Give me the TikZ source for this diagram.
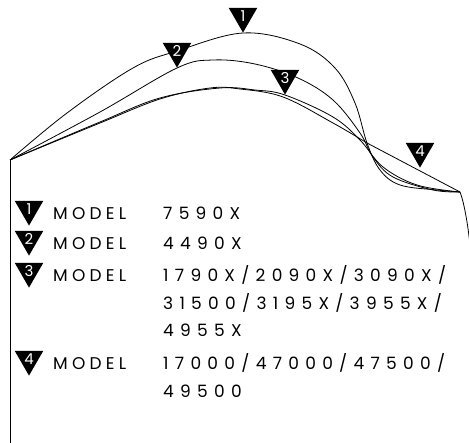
\documentclass[tikz,border=0pt]{standalone}
\usepackage{fontspec}
\newfontfamily\modelfont[LetterSpace=25]{Poppins}
\newfontfamily\numfont[LetterSpace=37]{Poppins}
\newfontfamily\markfont{Poppins}
\usetikzlibrary{shapes.geometric}

\begin{document}
\begin{tikzpicture}[x=1pt,y=-1pt,
    curve/.style={line width=0.8pt},
    tri/.style={regular polygon, regular polygon sides=3, shape border rotate=180,
      fill=black, text=white, inner sep=0pt, minimum size=33pt,
      font=\markfont\fontsize{15}{15}\selectfont},
    legendtext/.style={anchor=base west, inner sep=0pt, align=left,
      font=\modelfont\fontsize{17}{27.5}\selectfont},
    numtext/.style={legendtext, font=\numfont\fontsize{17}{27.5}\selectfont}]
    \useasboundingbox (0,0) rectangle (469,443);

    \coordinate (S) at (10,160);
    \coordinate (E) at (460,192);
    \coordinate (B) at (10,443);
    \coordinate (R) at (470,245);

    % frame lines
    \draw[curve] (S) -- (B);
    \draw[curve] (E) .. controls (464,202) and (468,225) .. (R);

    % curves
    \draw[curve] plot[smooth, tension=0.6] coordinates {(S) (67,113) (133,68) (177,51) (243,33) (300,44) (335,68) (355,103) (367,143) (380,170) (400,185) (437,190) (E)};
    \draw[curve] plot[smooth, tension=0.6] coordinates {(S) (100,112) (177,68) (213,60) (255,64) (298,78) (333,100) (360,133) (373,157) (393,177) (433,190) (E)};
    \draw[curve] plot[smooth, tension=0.6] coordinates {(S) (100,122) (160,98) (220,88) (255,90) (285,95) (333,117) (360,140) (383,167) (417,185) (E)};
    \draw[curve] plot[smooth, tension=0.6] coordinates {(S) (100,123) (160,99) (210,88) (240,89) (283,97) (333,123) (367,143)} -- (E);

    % markers on the curves
    \node[tri, anchor=corner 1] (m1) at (243,33) {1};
    \node[tri, anchor=corner 1] (m2) at (177,68) {2};
    \node[tri, anchor=corner 1] (m3) at (285,95) {3};
    \node[tri, anchor=corner 1] (m4) at (420,168) {4};

    % legend
    \node[tri, anchor=corner 1] (k1) at (29,226) {1};
    \node[tri, anchor=corner 1] (k2) at (29,256) {2};
    \node[tri, anchor=corner 1] (k3) at (29,288) {3};
    \node[tri, anchor=corner 1] (k4) at (29,376) {4};

    \node[legendtext] (n1) at (53,220) {MODEL};
    \node[legendtext] (n2) at (53,250) {MODEL};
    \node[legendtext] (n3) at (53,282) {MODEL};
    \node[legendtext] (n4) at (53,370) {MODEL};

    % base of a multi-line node is its last line
    \node[numtext] (v1) at (163,220) {7590X};
    \node[numtext] (v2) at (163,250) {4490X};
    \node[numtext] (v3) at (163,337) {1790X/2090X/3090X/\\31500/3195X/3955X/\\4955X};
    \node[numtext] (v4) at (163,397.5) {17000/47000/47500/\\49500};
\end{tikzpicture}
\end{document}
